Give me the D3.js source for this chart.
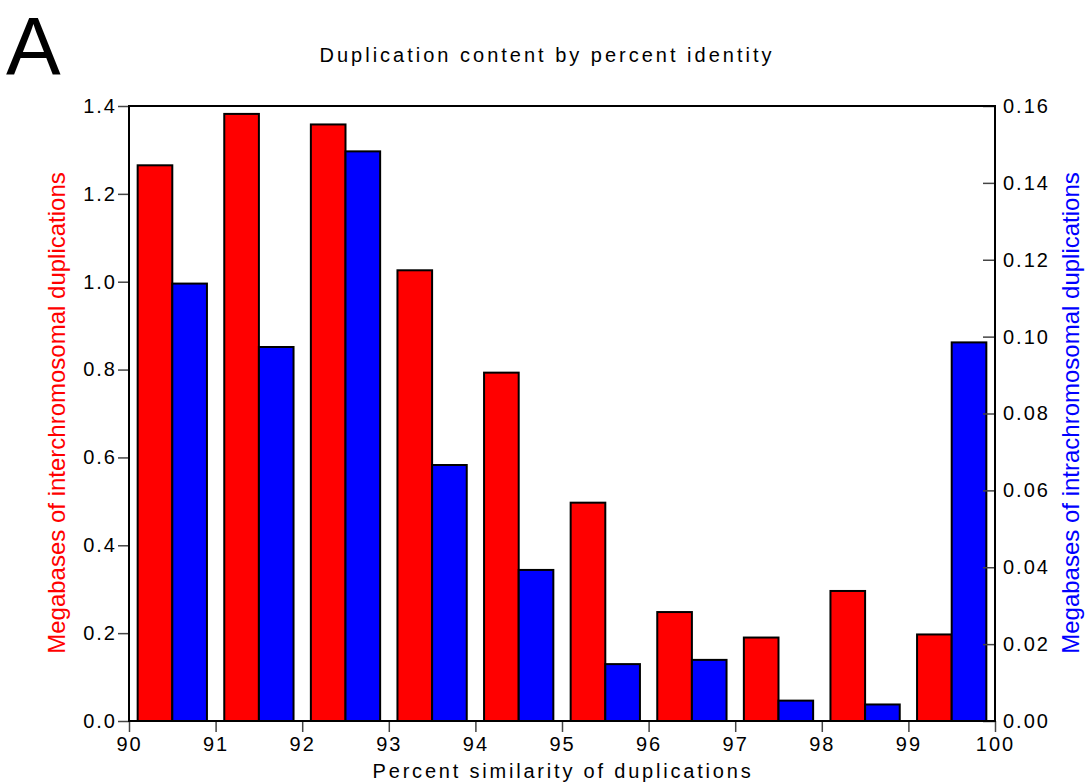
<!DOCTYPE html>
<html>
<head>
<meta charset="utf-8">
<script src="https://cdn.jsdelivr.net/npm/d3@7"></script>
<style>
  html, body { margin: 0; padding: 0; background: #fff; }
  svg { display: block; font-family: "Liberation Sans", Arial, sans-serif; }
</style>
</head>
<body>
<svg id="chart" width="1086" height="783"></svg>
<script>
// Percent-identity bins (lower edge of each 1% bin)
const bins = [90, 91, 92, 93, 94, 95, 96, 97, 98, 99];
// Megabases of interchromosomal duplications (left axis)
const interValues = [1.265, 1.382, 1.358, 1.026, 0.793, 0.497, 0.248, 0.190, 0.296, 0.197];
// Megabases of intrachromosomal duplications (right axis)
const intraValues = [0.1138, 0.0973, 0.1482, 0.0666, 0.0393, 0.0148, 0.0159, 0.0053, 0.0043, 0.0985];
// Tick labels
const xTicks = [90, 91, 92, 93, 94, 95, 96, 97, 98, 99, 100];
const leftTicks = [0.0, 0.2, 0.4, 0.6, 0.8, 1.0, 1.2, 1.4];
const rightTicks = [0.00, 0.02, 0.04, 0.06, 0.08, 0.10, 0.12, 0.14, 0.16];

const svg = d3.select("#chart");
const m = { left: 129, right: 995, top: 106, bottom: 721 };

const x = d3.scaleLinear().domain([90, 100]).range([m.left, m.right]);
const yL = d3.scaleLinear().domain([0, 1.4]).range([m.bottom, m.top]);
const yR = d3.scaleLinear().domain([0, 0.16]).range([m.bottom, m.top]);

// Bars: interchromosomal at 0.1–0.5 of each bin, intrachromosomal at 0.5–0.9
const bars = svg.append("g");
bars.selectAll("rect.inter").data(bins).join("rect")
  .attr("class", "inter")
  .attr("x", (d) => x(d + 0.1))
  .attr("width", (d) => x(d + 0.5) - x(d + 0.1))
  .attr("y", (d, i) => yL(interValues[i]))
  .attr("height", (d, i) => yL(0) - yL(interValues[i]))
  .attr("fill", "#ff0000").attr("stroke", "#000").attr("stroke-width", 2);
bars.selectAll("rect.intra").data(bins).join("rect")
  .attr("class", "intra")
  .attr("x", (d) => x(d + 0.5))
  .attr("width", (d) => x(d + 0.9) - x(d + 0.5))
  .attr("y", (d, i) => yR(intraValues[i]))
  .attr("height", (d, i) => yR(0) - yR(intraValues[i]))
  .attr("fill", "#0000ff").attr("stroke", "#000").attr("stroke-width", 2);

// Axes
const tickStyle = (g) => {
  g.select(".domain").remove();
  g.selectAll(".tick line").attr("stroke", "#444").attr("stroke-width", 1.5);
  g.selectAll(".tick text").attr("fill", "#000").attr("font-size", 20)
    .attr("font-family", "Liberation Sans, Arial, sans-serif")
    .attr("letter-spacing", 2);
};

svg.append("g").attr("transform", `translate(0,${m.bottom})`)
  .call(d3.axisBottom(x).tickValues(xTicks).tickFormat(d3.format("d")).tickSize(11).tickPadding(5))
  .call(tickStyle);

svg.append("g").attr("transform", `translate(${m.left},0)`)
  .call(d3.axisLeft(yL).tickValues(leftTicks).tickFormat(d3.format(".1f")).tickSize(11).tickPadding(1))
  .call(tickStyle);

const rAxis = svg.append("g").attr("transform", `translate(${m.right},0)`)
  .call(d3.axisRight(yR).tickValues(rightTicks).tickFormat(d3.format(".2f")).tickSize(0).tickPadding(8))
  .call(tickStyle);
rAxis.selectAll(".tick line").attr("x1", -12).attr("x2", 0);

// Frame around the plot area
svg.append("rect")
  .attr("x", m.left).attr("y", m.top)
  .attr("width", m.right - m.left).attr("height", m.bottom - m.top)
  .attr("fill", "none").attr("stroke", "#000").attr("stroke-width", 2);

// Panel letter
svg.append("text").attr("x", 6).attr("y", 74)
  .attr("font-size", 82).attr("fill", "#000").text("A");

// Title
svg.append("text").attr("x", 547).attr("y", 62).attr("text-anchor", "middle")
  .attr("font-size", 20).attr("letter-spacing", 3).attr("fill", "#000")
  .text("Duplication content by percent identity");

// Axis titles
svg.append("text").attr("x", (m.left + m.right) / 2 + 1).attr("y", 778).attr("text-anchor", "middle")
  .attr("font-size", 20).attr("letter-spacing", 2.8).attr("fill", "#000")
  .text("Percent similarity of duplications");

svg.append("text")
  .attr("transform", `translate(65,413) rotate(-90)`)
  .attr("text-anchor", "middle").attr("font-size", 24).attr("fill", "#ff0000")
  .text("Megabases of interchromosomal duplications");

svg.append("text")
  .attr("transform", `translate(1079,413) rotate(-90)`)
  .attr("text-anchor", "middle").attr("font-size", 24).attr("fill", "#0000ff")
  .text("Megabases of intrachromosomal duplications");
</script>
</body>
</html>
